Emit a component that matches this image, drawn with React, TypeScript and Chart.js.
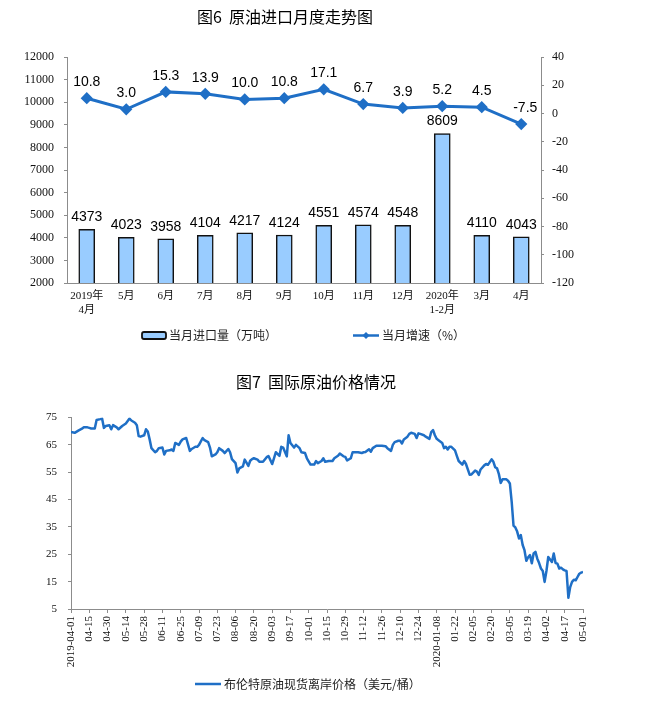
import React, { useEffect, useRef } from 'react';
import { Chart, registerables } from 'chart.js';

Chart.register(...registerables);

// ---------- Chart 6 data ----------
const months: (string | string[])[] = [
  ['2019年', '4月'], '5月', '6月', '7月', '8月', '9月', '10月', '11月', '12月', ['2020年', '1-2月'], '3月', '4月',
];
const importVolume = [4373, 4023, 3958, 4104, 4217, 4124, 4551, 4574, 4548, 8609, 4110, 4043];
const growthRate = [10.8, 3.0, 15.3, 13.9, 10.0, 10.8, 17.1, 6.7, 3.9, 5.2, 4.5, -7.5];
const volumeLabel = '当月进口量（万吨）';
const growthLabel = '当月增速（%）';
const title6 = '图6  原油进口月度走势图';

// ---------- Chart 7 data ----------
const title7 = '图7  国际原油价格情况';
const brentLabel = '布伦特原油现货离岸价格（美元/桶）';
// tick labels, one every 10 trading days
const dateTicks = [
  '2019-04-01', '04-15', '04-30', '05-14', '05-28', '06-11', '06-25', '07-09', '07-23', '08-06',
  '08-20', '09-03', '09-17', '10-01', '10-15', '10-29', '11-12', '11-26', '12-10', '12-24',
  '2020-01-08', '01-22', '02-05', '02-20', '03-05', '03-19', '04-02', '04-17', '05-01',
];
// [trading-day index, price USD/bbl]
const brentDaily: Array<[number, number]> = [
  [0, 69.7], [2, 69.4], [4, 70.2], [6, 70.9], [7, 71.4], [9, 71.4], [10, 71.2], [11, 71.0], [13, 71.0], [14, 74.1],
  [16, 74.4], [17, 74.6], [18, 71.2], [19, 71.9], [21, 72.2], [22, 70.7], [23, 72.2], [25, 71.4], [26, 70.7], [28, 71.9],
  [30, 72.8], [32, 74.6], [33, 73.9], [35, 73.1], [36, 72.2], [37, 68.2], [38, 68.0], [40, 68.5], [41, 70.7], [42, 69.9],
  [43, 67.0], [44, 63.8], [46, 62.3], [47, 62.8], [48, 63.8], [50, 64.0], [51, 61.5], [52, 62.8], [54, 63.0], [55, 63.3],
  [56, 62.8], [57, 65.7], [59, 65.0], [60, 66.2], [61, 67.0], [63, 67.5], [65, 62.8], [66, 63.5], [68, 64.3], [69, 64.3],
  [70, 65.0], [72, 67.5], [73, 66.7], [75, 66.0], [76, 64.0], [77, 60.8], [79, 61.5], [80, 62.3], [81, 63.8], [83, 62.8],
  [84, 62.0], [86, 63.5], [87, 62.3], [88, 59.8], [90, 58.3], [91, 54.9], [92, 56.4], [94, 57.1], [95, 59.6], [97, 57.3],
  [98, 59.2], [99, 59.8], [100, 60.1], [102, 59.6], [103, 58.8], [105, 58.8], [107, 60.5], [108, 60.9], [110, 58.0], [111, 60.1],
  [112, 62.3], [114, 61.0], [115, 64.3], [116, 64.0], [118, 60.8], [119, 68.5], [120, 65.7], [122, 64.0], [123, 65.0], [125, 63.8],
  [126, 62.3], [128, 62.0], [129, 60.1], [131, 57.8], [133, 57.8], [134, 59.1], [135, 58.3], [137, 59.1], [138, 60.1], [139, 58.8],
  [141, 59.1], [143, 59.1], [144, 60.1], [146, 61.0], [147, 61.8], [149, 60.8], [150, 60.6], [151, 59.3], [153, 60.1], [154, 62.3],
  [155, 62.3], [157, 62.3], [159, 62.0], [160, 62.3], [161, 62.4], [163, 63.4], [164, 62.5], [165, 63.8], [167, 64.7], [168, 64.7],
  [170, 64.7], [172, 64.5], [173, 63.8], [175, 62.8], [176, 65.0], [177, 66.0], [179, 66.5], [180, 66.5], [181, 65.5], [182, 67.0],
  [184, 68.0], [185, 69.0], [186, 69.4], [188, 69.0], [189, 67.5], [190, 69.2], [191, 69.0], [193, 68.5], [194, 68.0], [196, 67.2],
  [197, 69.7], [198, 70.4], [199, 68.5], [200, 67.2], [201, 66.7], [203, 65.7], [204, 63.8], [205, 64.3], [206, 63.3], [207, 64.3],
  [208, 64.3], [210, 63.0], [211, 61.0], [212, 59.1], [214, 57.8], [215, 59.1], [216, 58.0], [218, 54.1], [219, 54.2], [221, 55.6],
  [222, 55.2], [223, 54.0], [224, 56.0], [226, 57.5], [227, 58.0], [228, 57.7], [230, 59.7], [231, 58.8], [232, 56.8], [233, 56.4],
  [234, 54.3], [235, 51.1], [236, 52.4], [238, 52.4], [239, 51.9], [240, 50.9], [241, 44.2], [242, 35.5], [243, 34.8], [244, 33.3],
  [245, 30.8], [246, 32.0], [247, 28.4], [248, 26.5], [249, 22.6], [250, 23.9], [251, 24.7], [252, 21.7], [253, 25.3], [254, 25.9],
  [255, 23.4], [256, 21.8], [257, 19.8], [258, 18.9], [259, 14.9], [260, 18.9], [261, 24.0], [262, 23.1], [263, 22.2], [264, 25.3],
  [265, 21.8], [266, 21.6], [267, 19.8], [268, 20.1], [269, 19.5], [270, 19.1], [271, 18.9], [272, 9.1], [273, 13.0], [274, 14.9],
  [275, 15.7], [276, 15.5], [277, 16.7], [278, 17.9], [279, 18.3], [280, 18.5],
];

// ---------- styles ----------
const W = 671;
const H1 = 350;
const H2 = 356;
const BLUE = '#1f6fc6';
const BAR_FILL = '#99ccff';
const AXIS = '#8c8c8c';
const TXT = '#111';
const SERIF = '"Liberation Serif", "Times New Roman", "Noto Sans CJK SC", serif';
const SANS = '"Liberation Sans", Arial, sans-serif';
const CJK = '"Noto Sans CJK SC", sans-serif';

const plainNumber = (v: any) => String(v);

const overlay6 = {
  id: 'overlay6',
  afterDatasetsDraw(chart: any) {
    const ctx = chart.ctx as CanvasRenderingContext2D;
    ctx.save();
    ctx.fillStyle = '#000';
    ctx.font = `14px ${SANS}`;
    ctx.textAlign = 'center';
    ctx.textBaseline = 'middle';
    const barMeta = chart.getDatasetMeta(0);
    barMeta.data.forEach((el: any, i: number) => {
      ctx.fillText(String(importVolume[i]), el.x, el.y - 12);
    });
    const lineMeta = chart.getDatasetMeta(1);
    lineMeta.data.forEach((el: any, i: number) => {
      const dx = growthRate[i] < 0 ? 4 : 0;
      ctx.fillText(growthRate[i].toFixed(1), el.x + dx, el.y - 16);
    });
    ctx.restore();
  },
  afterDraw(chart: any) {
    const ctx = chart.ctx as CanvasRenderingContext2D;
    ctx.save();
    // title
    ctx.fillStyle = '#000';
    ctx.font = `16px ${CJK}`;
    ctx.textAlign = 'center';
    ctx.textBaseline = 'middle';
    ctx.fillText(title6, 285, 17);
    // legend
    const ly = 335.5;
    ctx.beginPath();
    (ctx as any).roundRect(142, ly - 3.5, 24, 7, 2);
    ctx.fillStyle = BAR_FILL;
    ctx.fill();
    ctx.lineWidth = 1.8;
    ctx.strokeStyle = '#111';
    ctx.stroke();
    ctx.font = `12px ${CJK}`;
    ctx.fillStyle = '#222';
    ctx.textAlign = 'left';
    ctx.fillText(chart.data.datasets[0].label, 169, ly);
    ctx.beginPath();
    ctx.moveTo(353, ly);
    ctx.lineTo(379, ly);
    ctx.strokeStyle = BLUE;
    ctx.lineWidth = 2.5;
    ctx.stroke();
    ctx.beginPath();
    ctx.moveTo(366, ly - 3.5);
    ctx.lineTo(369.5, ly);
    ctx.lineTo(366, ly + 3.5);
    ctx.lineTo(362.5, ly);
    ctx.closePath();
    ctx.fillStyle = BLUE;
    ctx.fill();
    ctx.fillStyle = '#222';
    ctx.fillText(chart.data.datasets[1].label, 382, ly);
    ctx.restore();
  },
};

const overlay7 = {
  id: 'overlay7',
  afterDraw(chart: any) {
    const ctx = chart.ctx as CanvasRenderingContext2D;
    ctx.save();
    ctx.fillStyle = '#000';
    ctx.font = `16px ${CJK}`;
    ctx.textAlign = 'center';
    ctx.textBaseline = 'middle';
    ctx.fillText(title7, 316, 32);
    const ly = 334;
    ctx.beginPath();
    ctx.moveTo(195, ly);
    ctx.lineTo(221, ly);
    ctx.strokeStyle = BLUE;
    ctx.lineWidth = 2.5;
    ctx.stroke();
    ctx.font = `12px ${CJK}`;
    ctx.fillStyle = '#222';
    ctx.textAlign = 'left';
    ctx.fillText(chart.data.datasets[0].label, 224, ly);
    ctx.restore();
  },
};

export default function App() {
  const r1 = useRef<HTMLCanvasElement>(null);
  const r2 = useRef<HTMLCanvasElement>(null);

  useEffect(() => {
    const c1 = new Chart(r1.current as HTMLCanvasElement, {
      type: 'bar',
      data: {
        labels: months as any,
        datasets: [
          {
            type: 'bar',
            label: volumeLabel,
            data: importVolume,
            yAxisID: 'y',
            backgroundColor: BAR_FILL,
            borderColor: '#111',
            borderWidth: 1.5,
            barThickness: 16,
            order: 1,
          } as any,
          {
            type: 'line',
            label: growthLabel,
            data: growthRate,
            yAxisID: 'y1',
            borderColor: BLUE,
            backgroundColor: BLUE,
            borderWidth: 3,
            pointStyle: 'rectRot',
            pointRadius: 4,
            pointBackgroundColor: BLUE,
            pointBorderColor: BLUE,
            tension: 0,
            order: 0,
          } as any,
        ],
      },
      options: {
        responsive: false,
        animation: false,
        layout: { padding: { top: 57, left: 17, right: 90, bottom: 33 } },
        plugins: { legend: { display: false }, title: { display: false }, tooltip: { enabled: false } },
        scales: {
          x: {
            grid: { display: false, drawTicks: false },
            border: { display: true, color: AXIS, width: 1 },
            ticks: { font: { family: SERIF, size: 11 }, color: TXT, padding: 7, maxRotation: 0, autoSkip: false },
            afterFit: (s: any) => { s.height = 34; },
          },
          y: {
            position: 'left',
            min: 2000,
            max: 12000,
            ticks: { stepSize: 1000, font: { family: SERIF, size: 12 }, color: TXT, padding: 10, callback: plainNumber },
            grid: { drawOnChartArea: false, tickLength: 3, color: AXIS },
            border: { color: AXIS },
            afterFit: (s: any) => { s.width = 50; },
          },
          y1: {
            position: 'right',
            min: -120,
            max: 40,
            ticks: { stepSize: 20, font: { family: SERIF, size: 12 }, color: TXT, padding: 8, callback: plainNumber },
            grid: { drawOnChartArea: false, tickLength: 3, color: AXIS },
            border: { color: AXIS },
            afterFit: (s: any) => { s.width = 40; },
          },
        },
      } as any,
      plugins: [overlay6],
    });

    const c2 = new Chart(r2.current as HTMLCanvasElement, {
      type: 'line',
      data: {
        datasets: [
          {
            label: brentLabel,
            data: brentDaily.map(([d, p]) => ({ x: d, y: p })),
            borderColor: BLUE,
            backgroundColor: BLUE,
            borderWidth: 2.5,
            pointRadius: 0,
            tension: 0,
            borderJoinStyle: 'round',
          } as any,
        ],
      },
      options: {
        responsive: false,
        animation: false,
        layout: { padding: { top: 67.5, left: 21, right: 88, bottom: 37 } },
        plugins: { legend: { display: false }, title: { display: false }, tooltip: { enabled: false } },
        scales: {
          x: {
            type: 'linear',
            min: 0,
            max: 280,
            ticks: {
              stepSize: 10,
              autoSkip: false,
              maxRotation: 90,
              minRotation: 90,
              padding: 3,
              font: { family: SERIF, size: 11 },
              color: TXT,
              callback: (v: any) => dateTicks[Math.round(Number(v) / 10)] ?? '',
            },
            grid: { drawOnChartArea: false, tickLength: 4, color: AXIS },
            border: { color: AXIS },
            afterFit: (s: any) => { s.height = 60; },
          },
          y: {
            min: 5,
            max: 75,
            ticks: { stepSize: 10, font: { family: SERIF, size: 11 }, color: TXT, padding: 11, callback: plainNumber },
            grid: { drawOnChartArea: false, tickLength: 3, color: AXIS },
            border: { color: AXIS },
            afterFit: (s: any) => { s.width = 50; },
          },
        },
      } as any,
      plugins: [overlay7],
    });

    return () => {
      c1.destroy();
      c2.destroy();
    };
  }, []);

  return (
    <div style={{ position: 'absolute', left: 0, top: 0, width: W, height: H1 + H2, background: '#fff' }}>
      <canvas ref={r1} width={W} height={H1} style={{ position: 'absolute', left: 0, top: 0, width: W, height: H1 }} />
      <canvas ref={r2} width={W} height={H2} style={{ position: 'absolute', left: 0, top: H1, width: W, height: H2 }} />
    </div>
  );
}
